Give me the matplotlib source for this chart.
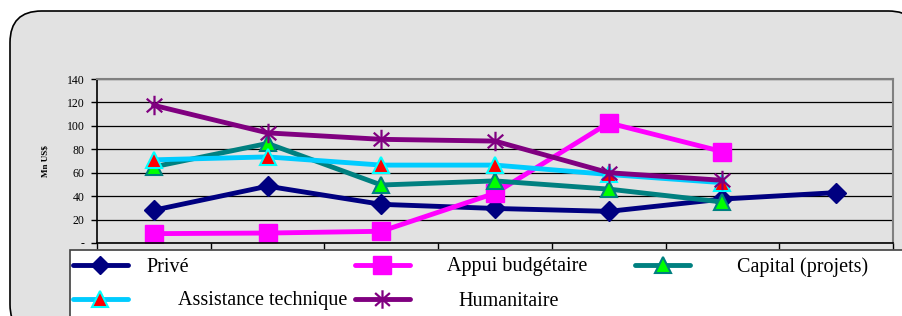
import numpy as np
import matplotlib
matplotlib.use('Agg')
import matplotlib.pyplot as plt
from matplotlib.patches import FancyBboxPatch, Rectangle
from matplotlib.lines import Line2D
from matplotlib.path import Path

plt.rcParams['font.family'] = ['Liberation Serif', 'DejaVu Serif']

# seven periods (unlabelled on the original chart)
periods = list(range(7))
prive = [28, 48.5, 33, 29.5, 27, 37.5, 43]
appui = [8, 8.5, 10, 42.5, 102.5, 78]
capital = [65, 85, 49.5, 53, 46, 35]
assistance = [71, 73.5, 66.5, 66.5, 58.5, 51.5]
humanitaire = [117.5, 94, 88.5, 87, 60, 53.5]
yticks = [0, 20, 40, 60, 80, 100, 120, 140]
ytick_labels = ['-', '20', '40', '60', '80', '100', '120', '140']

W, H = 903, 316
fig = plt.figure(figsize=(W / 100, H / 100), dpi=100)
fig.patch.set_facecolor('white')

# rounded outer frame
frame = FancyBboxPatch((10 / W, -20 / H), 910 / W, 325 / H,
                       boxstyle='round,pad=0,rounding_size=0.035',
                       transform=fig.transFigure, facecolor='#e2e2e2',
                       edgecolor='black', linewidth=1.2, mutation_aspect=W / H,
                       zorder=-10)
fig.add_artist(frame)

# excel-like star: an X crossed by a vertical bar
star = Path([(0, -1), (0, 1), (-0.8, -0.7), (0.8, 0.7), (-0.8, 0.7), (0.8, -0.7)],
            [Path.MOVETO, Path.LINETO, Path.MOVETO, Path.LINETO, Path.MOVETO, Path.LINETO])

ax = fig.add_axes([97 / W, 1 - 243 / H, (893 - 97) / W, (243 - 79) / H])
ax.patch.set_alpha(0)

styles = [
    ('Privé', prive, dict(color='#000080', marker='D', markersize=10,
                          markerfacecolor='#000080', markeredgecolor='#000080')),
    ('Appui budgétaire', appui, dict(color='#ff00ff', marker='s', markersize=13,
                                     markerfacecolor='#ff00ff', markeredgecolor='#ff00ff')),
    ('Capital (projets)', capital, dict(color='#008080', marker='^', markersize=12,
                                       markerfacecolor='#00ff00', markeredgecolor='#008080',
                                       markeredgewidth=1.5)),
    ('Assistance technique', assistance, dict(color='#00ccff', marker='^', markersize=12,
                                              markerfacecolor='#ff0000', markeredgecolor='#00ffff',
                                              markeredgewidth=1.5)),
    ('Humanitaire', humanitaire, dict(color='#800080', marker=star, markersize=14,
                                      markerfacecolor='none',
                                      markeredgecolor='#800080', markeredgewidth=1.6)),
]

for name, vals, kw in styles:
    ax.plot(periods[:len(vals)], vals, linewidth=3.5, solid_joinstyle='round', **kw)

ax.set_xlim(-0.5, 6.5)
ax.set_ylim(0, 140)
ax.set_yticks(yticks)
ax.set_yticklabels(ytick_labels, fontsize=8.5)
ax.set_xticks(np.arange(-0.5, 7, 1))
ax.set_xticklabels([])
ax.tick_params(axis='both', direction='out', length=4, width=1, pad=5)
ax.yaxis.grid(True, color='black', linewidth=0.9)
ax.set_axisbelow(True)
for s in ['top', 'right']:
    ax.spines[s].set_color('#808080')
    ax.spines[s].set_linewidth(1.5)
for s in ['left', 'bottom']:
    ax.spines[s].set_color('black')
    ax.spines[s].set_linewidth(1.2)
ax.set_ylabel('Mn US$', fontsize=6.5, fontweight='bold', labelpad=12)

# legend box (drawn like the original spreadsheet legend)
fig.add_artist(Rectangle((70 / W, -10 / H), 850 / W, 76 / H,
                         transform=fig.transFigure, facecolor='white',
                         edgecolor='#404040', linewidth=1.2, zorder=5))

leg_pos = [
    (73, 265, 146),
    (355, 265, 447),
    (635, 265, 737),
    (73, 299, 178),
    (355, 299, 458),
]
for (name, vals, kw), (lx, ly, tx) in zip(styles, leg_pos):
    kw2 = dict(kw)
    kw2['markersize'] = kw['markersize'] * 0.95
    line_kw = {k: v for k, v in kw2.items() if k == 'color'}
    fig.add_artist(Line2D([lx / W, (lx + 55) / W], [1 - ly / H, 1 - ly / H],
                          transform=fig.transFigure, linewidth=3.5,
                          solid_capstyle='round', zorder=6, **line_kw))
    fig.add_artist(Line2D([(lx + 27.5) / W], [1 - ly / H], transform=fig.transFigure,
                          linestyle='none', zorder=7, **kw2))
    fig.text(tx / W, 1 - (ly + 2) / H, name, fontsize=14.5, va='center', ha='left', zorder=8)

fig.savefig('out.png', dpi=100)
